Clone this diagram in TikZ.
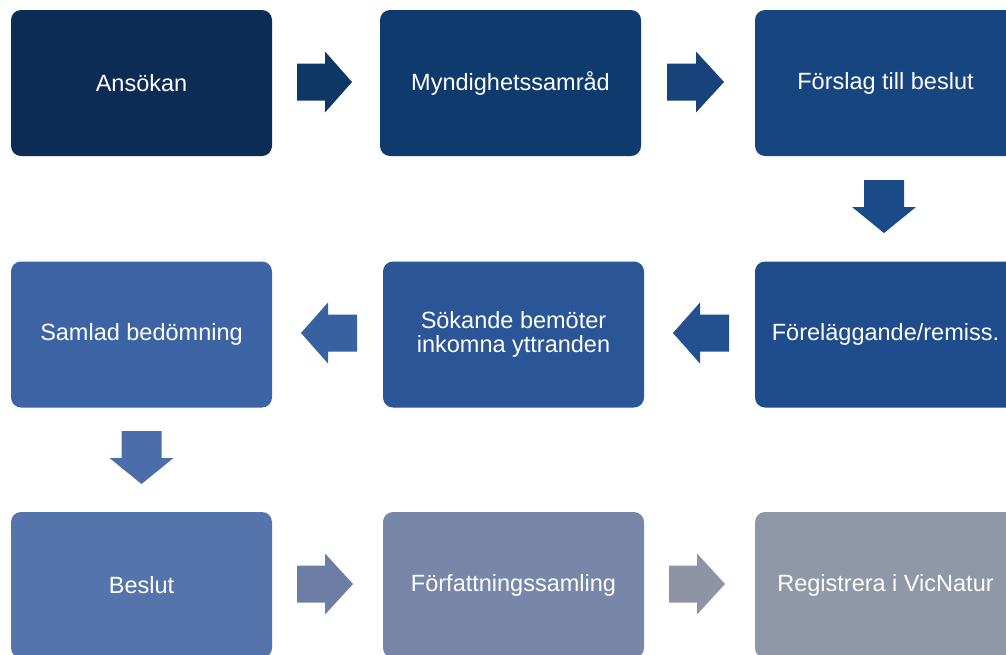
\documentclass[tikz,border=0pt]{standalone}
\usepackage{fontspec}
\setmainfont{Liberation Sans}
\definecolor{cA}{HTML}{0C2B55}
\definecolor{cB}{HTML}{0F3A6E}
\definecolor{cC}{HTML}{17457F}
\definecolor{cD}{HTML}{1E4C8C}
\definecolor{cE}{HTML}{2A5596}
\definecolor{cF}{HTML}{3C64A4}
\definecolor{cG}{HTML}{5474AB}
\definecolor{cH}{HTML}{7886A8}
\definecolor{cI}{HTML}{9097A6}
\definecolor{aA}{HTML}{0F3766}
\definecolor{aB}{HTML}{17427A}
\definecolor{aC}{HTML}{1B4A88}
\definecolor{aD}{HTML}{23508F}
\definecolor{aE}{HTML}{3761A0}
\definecolor{aF}{HTML}{4B6DAA}
\definecolor{aG}{HTML}{6E7DA4}
\definecolor{aH}{HTML}{8E94A5}
\tikzset{
  stepbox/.style={rounded corners=10pt, minimum width=261pt, minimum height=146pt,
    inner sep=0pt, text=white, align=center, font=\fontsize{23.5}{24}\selectfont},
}
\newcommand{\rarrow}[5]{% color, x0, xb, x1, cy
  \fill[#1] (#2,#5-18.5) -- (#3,#5-18.5) -- (#3,#5-30.5) -- (#4,#5) -- (#3,#5+30.5) -- (#3,#5+18.5) -- (#2,#5+18.5) -- cycle;}
\newcommand{\darrow}[5]{% color, cx, y0, yb, y1
  \fill[#1] (#2-20,#3) -- (#2+20,#3) -- (#2+20,#4) -- (#2+32,#4) -- (#2,#5) -- (#2-32,#4) -- (#2-20,#4) -- cycle;}
\begin{document}
\begin{tikzpicture}[x=1pt,y=-1pt]
\useasboundingbox (0,0) rectangle (1006,654);
\clip (0,0) rectangle (1006,654);
% row 1
\node[stepbox, fill=cA] (ans) at (141.5,83) {Ansökan};
\node[stepbox, fill=cB] (myn) at (510.5,83) {Myndighetssamråd};
\node[stepbox, fill=cC] (for) at (885.5,83) {Förslag till beslut};
% row 2
\node[stepbox, fill=cF] (sam) at (141.5,334.5) {Samlad bedömning};
\node[stepbox, fill=cE] (sok) at (513.5,334.5) {Sökande bemöter\\inkomna yttranden};
\node[stepbox, fill=cD] (fol) at (885.5,334.5) {Föreläggande/remiss.};
% row 3
\node[stepbox, fill=cG] (bes) at (141.5,585) {Beslut};
\node[stepbox, fill=cH] (fsa) at (513.5,585) {Författningssamling};
\node[stepbox, fill=cI] (reg) at (885.5,585) {Registrera i VicNatur};
% arrows row 1
\rarrow{aA}{297}{325}{352}{82}
\rarrow{aB}{667}{696}{724}{82}
\darrow{aC}{884}{180}{207}{233}
% arrows row 2 (leftwards)
\rarrow{aE}{357}{328}{301}{333}
\rarrow{aD}{729}{700}{673}{333}
\darrow{aF}{141.5}{431}{458}{484}
% arrows row 3
\rarrow{aG}{297}{325}{353}{584}
\rarrow{aH}{669}{697}{725}{584}
\end{tikzpicture}
\end{document}
